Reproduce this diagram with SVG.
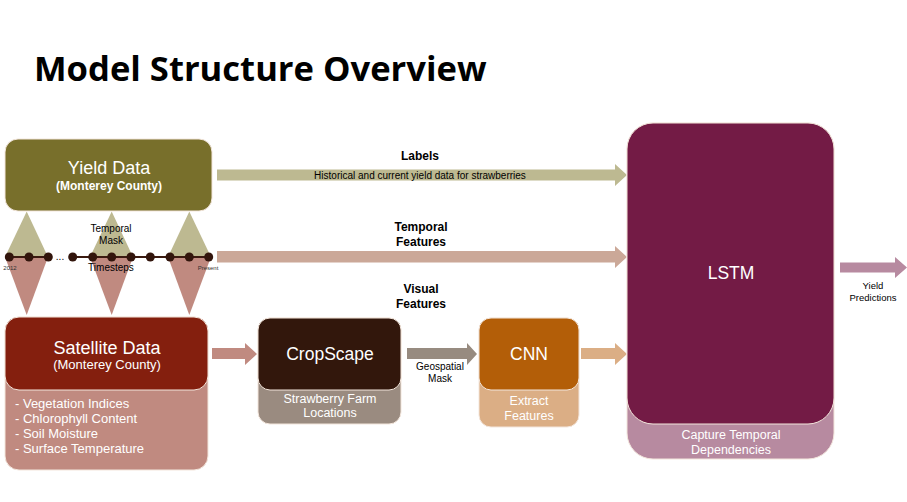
<svg xmlns="http://www.w3.org/2000/svg" width="907" height="502" viewBox="0 0 907 502">
<style>
text{font-family:"Liberation Sans",Arial,sans-serif;text-anchor:middle}
.title{font-family:"Open Sans","Noto Sans",sans-serif;font-weight:bold;font-size:34.6px;text-anchor:start;fill:#000}
.big{font-size:17.5px;fill:#fff}
.sub{font-size:12.5px;fill:#fff}
.lbl{font-size:12px;font-weight:bold;fill:#000}
.sm{font-size:10px;fill:#000}
.tiny{font-size:6px;fill:#333}
.box{stroke:#f3e6dc;stroke-width:1}
</style>
<rect width="907" height="502" fill="#fff"/>
<text class="title" x="34" y="81">Model Structure Overview</text>

<g id="connectors">
  <polygon points="217,169.5 615,169.5 615,164 627,175 615,186 615,180.5 217,180.5" fill="#BDB991"/>
  <polygon points="217,251 615,251 615,246 627,257 615,268 615,262.5 217,262.5" fill="#CBA898"/>
  <polygon points="212,348 245,348 245,343 257,354 245,365 245,359 212,359" fill="#C08A80"/>
  <polygon points="407,348 467,348 467,343 477,354 467,365 467,359 407,359" fill="#978B80"/>
  <polygon points="581,348 615,348 615,343 627,354 615,365 615,359 581,359" fill="#DBAE85"/>
  <polygon points="840,262.5 895,262.5 895,257 907,267.5 895,278 895,272.5 840,272.5" fill="#B78AA0"/>
  <text class="lbl" x="420" y="160">Labels</text>
  <text class="sm" x="420" y="178.5">Historical and current yield data for strawberries</text>
  <text class="lbl" x="421" y="231">Temporal</text>
  <text class="lbl" x="421" y="246">Features</text>
  <text class="lbl" x="421" y="293">Visual</text>
  <text class="lbl" x="421" y="308">Features</text>
  <text class="sm" x="440" y="370">Geospatial</text>
  <text class="sm" x="440" y="382">Mask</text>
  <text class="sm" x="873" y="289" style="font-size:9.5px">Yield</text>
  <text class="sm" x="873" y="301" style="font-size:9.5px">Predictions</text>
</g>

<g id="temporal-mask">
  <polygon points="5,257 26.7,211.5 48,257" fill="#BDB991"/>
  <polygon points="90,257 111.7,211.5 133,257" fill="#BDB991"/>
  <polygon points="168,257 189.3,211.5 211,257" fill="#BDB991"/>
  <polygon points="5,257 26.7,315 48,257" fill="#C08A80"/>
  <polygon points="90,257 111.7,315 133,257" fill="#C08A80"/>
  <polygon points="168,257 189.3,315 211,257" fill="#C08A80"/>
  <line x1="9.3" y1="257" x2="48.3" y2="257" stroke="#3B1A10" stroke-width="2"/>
  <line x1="72.7" y1="257" x2="208.7" y2="257" stroke="#3B1A10" stroke-width="2"/>
  <g fill="#32150C">
    <circle cx="9.3" cy="257" r="4.5"/>
    <circle cx="29" cy="257" r="4.5"/>
    <circle cx="48.3" cy="257" r="4.5"/>
    <circle cx="72.7" cy="257" r="4.5"/>
    <circle cx="92.7" cy="257" r="4.5"/>
    <circle cx="111.7" cy="257" r="4.5"/>
    <circle cx="131" cy="257" r="4.5"/>
    <circle cx="150.3" cy="257" r="4.5"/>
    <circle cx="170" cy="257" r="4.5"/>
    <circle cx="189.3" cy="257" r="4.5"/>
    <circle cx="208.7" cy="257" r="4.5"/>
  </g>
  <text class="sm" x="60" y="260">...</text>
  <text class="sm" x="111" y="232">Temporal</text>
  <text class="sm" x="111" y="244">Mask</text>
  <text class="sm" x="111" y="271">Timesteps</text>
  <text class="tiny" x="10" y="270">2012</text>
  <text class="tiny" x="208" y="270">Present</text>
</g>

<g id="yield-data">
  <rect class="box" x="5" y="139" width="207" height="72" rx="13" fill="#786F2B"/>
  <text x="109" y="174" font-size="18" fill="#fff">Yield Data</text>
  <text x="109" y="190" font-size="12" font-weight="bold" fill="#fff">(Monterey County)</text>
</g>

<g id="satellite-data">
  <rect class="box" x="5" y="317" width="203" height="153" rx="14" fill="#C08A80"/>
  <rect class="box" x="5" y="317" width="203" height="73" rx="14" fill="#841F0E"/>
  <text x="107" y="354" font-size="18" fill="#fff">Satellite Data</text>
  <text x="107" y="369" font-size="13" fill="#fff">(Monterey County)</text>
  <text class="sub" x="15" y="408" style="text-anchor:start;font-size:13px">- Vegetation Indices</text>
  <text class="sub" x="15" y="423" style="text-anchor:start;font-size:13px">- Chlorophyll Content</text>
  <text class="sub" x="15" y="438" style="text-anchor:start;font-size:13px">- Soil Moisture</text>
  <text class="sub" x="15" y="453" style="text-anchor:start;font-size:13px">- Surface Temperature</text>
</g>

<g id="cropscape">
  <rect class="box" x="258" y="318" width="143" height="106" rx="12" fill="#9A8B80"/>
  <rect class="box" x="258" y="318" width="143" height="72" rx="12" fill="#32170C"/>
  <text class="big" x="330" y="360">CropScape</text>
  <text class="sub" x="330" y="403">Strawberry Farm</text>
  <text class="sub" x="330" y="417">Locations</text>
</g>

<g id="cnn">
  <rect class="box" x="479" y="318" width="100" height="109" rx="12" fill="#DBAE85"/>
  <rect class="box" x="479" y="318" width="100" height="72" rx="12" fill="#B35E08"/>
  <text class="big" x="529" y="360">CNN</text>
  <text class="sub" x="529" y="405">Extract</text>
  <text class="sub" x="529" y="420">Features</text>
</g>

<g id="lstm">
  <rect class="box" x="627" y="123" width="207" height="336" rx="26" fill="#B78AA0"/>
  <rect class="box" x="627" y="123" width="207" height="301" rx="26" fill="#731B45"/>
  <text class="big" x="731" y="279">LSTM</text>
  <text class="sub" x="731" y="439">Capture Temporal</text>
  <text class="sub" x="731" y="454">Dependencies</text>
</g>
</svg>
